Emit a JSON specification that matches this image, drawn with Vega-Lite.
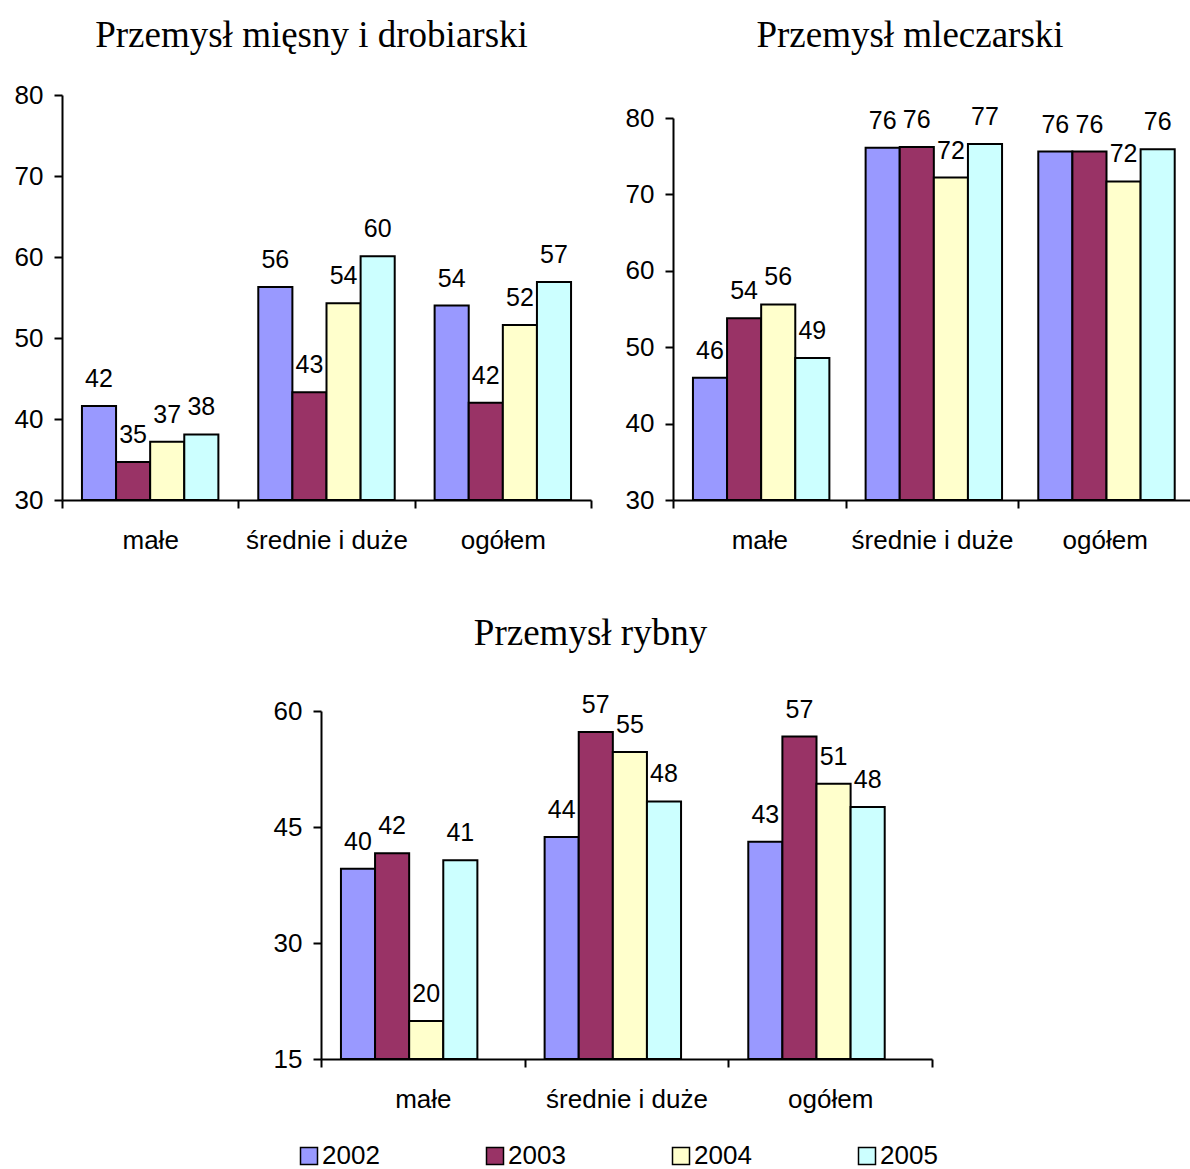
{
  "$schema": "https://vega.github.io/schema/vega-lite/v6.json",
  "padding": {"left": 14, "top": 17, "right": 0, "bottom": 0},
  "background": "white",
  "datasets": {
    "meat": [
      {"group": "małe", "year": "2002", "value": 41.6},
      {"group": "małe", "year": "2003", "value": 34.7},
      {"group": "małe", "year": "2004", "value": 37.2},
      {"group": "małe", "year": "2005", "value": 38.1},
      {"group": "średnie i duże", "year": "2002", "value": 56.3},
      {"group": "średnie i duże", "year": "2003", "value": 43.3},
      {"group": "średnie i duże", "year": "2004", "value": 54.3},
      {"group": "średnie i duże", "year": "2005", "value": 60.1},
      {"group": "ogółem", "year": "2002", "value": 54.0},
      {"group": "ogółem", "year": "2003", "value": 42.0},
      {"group": "ogółem", "year": "2004", "value": 51.6},
      {"group": "ogółem", "year": "2005", "value": 56.9}
    ],
    "milk": [
      {"group": "małe", "year": "2002", "value": 46.0},
      {"group": "małe", "year": "2003", "value": 53.8},
      {"group": "małe", "year": "2004", "value": 55.6},
      {"group": "małe", "year": "2005", "value": 48.6},
      {"group": "średnie i duże", "year": "2002", "value": 76.1},
      {"group": "średnie i duże", "year": "2003", "value": 76.2},
      {"group": "średnie i duże", "year": "2004", "value": 72.2},
      {"group": "średnie i duże", "year": "2005", "value": 76.6},
      {"group": "ogółem", "year": "2002", "value": 75.6},
      {"group": "ogółem", "year": "2003", "value": 75.6},
      {"group": "ogółem", "year": "2004", "value": 71.7},
      {"group": "ogółem", "year": "2005", "value": 75.9}
    ],
    "fish": [
      {"group": "małe", "year": "2002", "value": 39.6},
      {"group": "małe", "year": "2003", "value": 41.6},
      {"group": "małe", "year": "2004", "value": 19.9},
      {"group": "małe", "year": "2005", "value": 40.7},
      {"group": "średnie i duże", "year": "2002", "value": 43.7},
      {"group": "średnie i duże", "year": "2003", "value": 57.3},
      {"group": "średnie i duże", "year": "2004", "value": 54.7},
      {"group": "średnie i duże", "year": "2005", "value": 48.3},
      {"group": "ogółem", "year": "2002", "value": 43.1},
      {"group": "ogółem", "year": "2003", "value": 56.7},
      {"group": "ogółem", "year": "2004", "value": 50.6},
      {"group": "ogółem", "year": "2005", "value": 47.6}
    ]
  },
  "center": true,
  "spacing": 61,
  "vconcat": [
    {
      "spacing": 33,
      "align": "none",
      "hconcat": [
        {
          "width": 529,
          "height": 405,
          "title": {"text": "Przemysł mięsny i drobiarski", "dx": -15, "offset": 27},
          "data": {"name": "meat"},
          "encoding": {
            "x": {"field": "group", "type": "nominal", "sort": ["małe", "średnie i duże", "ogółem"], "scale": {"paddingInner": 0, "paddingOuter": 0}, "axis": {"title": null}},
            "xOffset": {"field": "year", "type": "nominal", "scale": {"paddingInner": 0, "paddingOuter": 0.585}},
            "y": {"field": "value", "type": "quantitative", "scale": {"domain": [30, 80], "nice": false, "zero": false}, "axis": {"title": null, "values": [30, 40, 50, 60, 70, 80]}}
          },
          "layer": [
            {
              "mark": {"type": "bar", "stroke": "black", "strokeWidth": 2},
              "encoding": {
                "y2": {"datum": 30},
                "color": {
                  "field": "year", "type": "nominal",
                  "scale": {"domain": ["2002", "2003", "2004", "2005"], "range": ["#9999FF", "#993366", "#FFFFCC", "#CCFFFF"]},
                  "legend": {
                    "title": null, "orient": "none", "legendX": 234, "legendY": 1048,
                    "direction": "horizontal", "columns": 4, "symbolType": "square", "symbolSize": 289,
                    "symbolStrokeColor": "black", "symbolStrokeWidth": 1.5, "symbolOpacity": 1,
                    "labelFontSize": 26, "labelFont": "Liberation Sans", "labelColor": "black",
                    "labelOffset": 0, "columnPadding": 102, "padding": 0, "labelLimit": 0
                  }
                }
              }
            },
            {
              "mark": {"type": "text", "dy": -19, "baseline": "alphabetic", "fontSize": 25, "font": "Liberation Sans", "color": "black"},
              "encoding": {"text": {"field": "value", "type": "quantitative", "format": ".0f"}}
            }
          ]
        },
        {
          "width": 518,
          "height": 405,
          "title": {"text": "Przemysł mleczarski", "dx": -22, "offset": 40},
          "data": {"name": "milk"},
          "encoding": {
            "x": {"field": "group", "type": "nominal", "sort": ["małe", "średnie i duże", "ogółem"], "scale": {"paddingInner": 0, "paddingOuter": 0}, "axis": {"title": null}},
            "xOffset": {"field": "year", "type": "nominal", "scale": {"paddingInner": 0, "paddingOuter": 0.54}},
            "y": {"field": "value", "type": "quantitative", "scale": {"domain": [30, 80], "range": [405, 23], "nice": false, "zero": false}, "axis": {"title": null, "values": [30, 40, 50, 60, 70, 80]}}
          },
          "layer": [
            {
              "mark": {"type": "bar", "stroke": "black", "strokeWidth": 2},
              "encoding": {
                "y2": {"datum": 30},
                "color": {"field": "year", "type": "nominal", "scale": {"domain": ["2002", "2003", "2004", "2005"], "range": ["#9999FF", "#993366", "#FFFFCC", "#CCFFFF"]}}
              }
            },
            {
              "mark": {"type": "text", "dy": -19, "baseline": "alphabetic", "fontSize": 25, "font": "Liberation Sans", "color": "black"},
              "encoding": {"text": {"field": "value", "type": "quantitative", "format": ".0f"}}
            }
          ]
        }
      ]
    },
    {
      "width": 611,
      "height": 348,
      "title": {"text": "Przemysł rybny", "dx": -36, "offset": 40},
      "data": {"name": "fish"},
      "encoding": {
        "x": {"field": "group", "type": "nominal", "sort": ["małe", "średnie i duże", "ogółem"], "scale": {"paddingInner": 0, "paddingOuter": 0}, "axis": {"title": null}},
        "xOffset": {"field": "year", "type": "nominal", "scale": {"paddingInner": 0, "paddingOuter": 0.76}},
        "y": {"field": "value", "type": "quantitative", "scale": {"domain": [15, 60], "nice": false, "zero": false}, "axis": {"title": null, "values": [15, 30, 45, 60]}}
      },
      "layer": [
        {
          "mark": {"type": "bar", "stroke": "black", "strokeWidth": 2},
          "encoding": {
            "y2": {"datum": 15},
            "color": {"field": "year", "type": "nominal", "scale": {"domain": ["2002", "2003", "2004", "2005"], "range": ["#9999FF", "#993366", "#FFFFCC", "#CCFFFF"]}}
          }
        },
        {
          "mark": {"type": "text", "dy": -19, "baseline": "alphabetic", "fontSize": 25, "font": "Liberation Sans", "color": "black"},
          "encoding": {"text": {"field": "value", "type": "quantitative", "format": ".0f"}}
        }
      ]
    }
  ],
  "config": {
    "view": {"stroke": null},
    "font": "Liberation Sans",
    "title": {"font": "Liberation Serif", "fontSize": 37, "fontWeight": "normal", "color": "black", "anchor": "middle", "frame": "group", "baseline": "bottom"},
    "axis": {
      "grid": false, "domainColor": "black", "domainWidth": 2, "tickColor": "black", "tickWidth": 2, "tickSize": 8,
      "labelFont": "Liberation Sans", "labelFontSize": 26, "labelColor": "black"
    },
    "axisX": {"labelAngle": 0, "labelPadding": 19, "tickBand": "extent"},
    "axisY": {"labelPadding": 11}
  }
}
